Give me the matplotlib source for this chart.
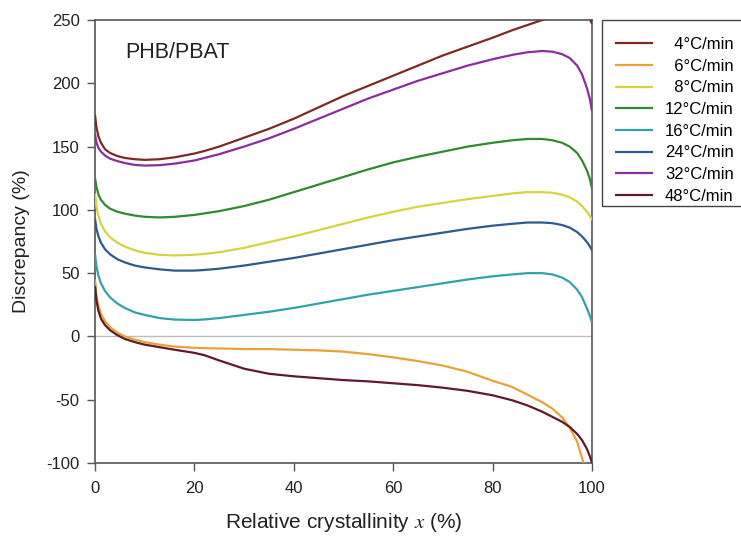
import numpy as np
import matplotlib
matplotlib.use("Agg")
import matplotlib.pyplot as plt
from matplotlib.patches import Rectangle

plt.rcParams["font.family"] = ["Liberation Sans", "DejaVu Sans"]
plt.rcParams["mathtext.fontset"] = "stix"
plt.rcParams["axes.unicode_minus"] = False

# Relative crystallinity (%) sample positions shared by all series
x = [0, 0.3, 0.7, 1.2, 2, 3, 4.5, 6, 8, 10, 13, 16, 20, 22, 25, 30, 35, 40, 45, 50,
     55, 60, 65, 70, 75, 80, 84, 87, 90, 92, 94, 95.5, 97, 98, 99, 99.6, 100]

rate_labels = ["4°C/min", "6°C/min", "8°C/min", "12°C/min",
               "16°C/min", "24°C/min", "32°C/min", "48°C/min"]

d_4 = [175, 165, 158, 153, 148, 145, 142.5, 141, 140, 139.5, 140, 141.5, 144.5, 146.5,
       150, 157, 164, 172, 181, 190, 198, 206, 214, 222, 229, 236, 242, 246, 250,
       252.5, 254.5, 255.5, 256, 255.5, 253, 250.5, 247]
d_6 = [45, 32, 24, 18, 12, 7.5, 3, 0, -2.5, -4.5, -6.5, -8, -9, -9.3, -9.5, -10, -10,
       -10.5, -11, -12, -14, -16.5, -19.5, -23, -28, -35, -40, -46, -52, -57, -64,
       -72, -83, -96, -110, -120, -128]
d_8 = [113, 102, 95, 89, 83, 78.5, 74, 71, 68, 66, 64.5, 64, 64.5, 65.2, 66.5, 70,
       74.5, 79, 84, 89, 94, 98.5, 102.5, 105.5, 108.5, 111, 113, 114, 114, 113.5,
       112, 110, 106.5, 103, 98.5, 95, 92]
d_12 = [125, 118, 112, 108, 104, 101, 98.5, 97, 95.5, 94.5, 94, 94.5, 96, 97.2, 99,
        103, 108, 114, 120, 126, 132, 137.5, 142, 146, 150, 153, 155, 156, 156, 155,
        153, 150, 145, 139, 131, 124, 117]
d_16 = [65, 55, 48, 42, 36, 31, 26, 22.5, 19, 17, 14.5, 13.3, 13, 13.4, 14.5, 17,
        19.5, 22.5, 26, 29.5, 33, 36, 39, 42, 45, 47.5, 49, 50, 50, 49, 46.5, 43, 37,
        31, 22, 16, 11]
d_24 = [93, 85, 79, 74, 69, 65, 61, 58.5, 56, 54.5, 53, 52, 52, 52.5, 53.5, 56, 59,
        62, 65.5, 69, 72.5, 76, 79, 82, 85, 87.5, 89, 90, 90, 89.5, 88, 86, 82.5, 79,
        74.5, 71, 68]
d_32 = [160, 153, 149, 146, 143, 140.5, 138.5, 137, 135.5, 135, 135.3, 136.5, 139,
        141, 144, 150, 156.5, 164, 172, 180, 188, 195, 202, 208, 214, 219, 222.5,
        224.5, 225.5, 225, 223, 220, 214, 207, 196, 187, 178]
d_48 = [40, 28, 20, 14, 9, 5, 1, -2, -4.5, -6.5, -8.5, -10.5, -13, -14.8, -19, -25.5,
        -29.5, -31.5, -33, -34.5, -35.5, -37, -38.5, -40.5, -43, -46.5, -50.5, -54.5,
        -59.5, -63.5, -67.5, -71.5, -77, -82, -89, -95, -100]

series = [d_4, d_6, d_8, d_12, d_16, d_24, d_32, d_48]
colors = ["#7E2A24", "#E9A23A", "#D5D43E", "#2F8A30",
          "#33A2A8", "#2D5B8B", "#8B2E9D", "#611A2A"]

W, H = 741, 540
fig = plt.figure(figsize=(W / 100, H / 100), dpi=100)
ax = fig.add_axes([95 / W, 77 / H, 497 / W, 443 / H])

ax.axhline(0, color="#BDBDBD", lw=1.0, zorder=1)

for vals, c, lab in zip(series, colors, rate_labels):
    # two spaces take the width of one digit, so the rate labels line up on the right
    pad = "  " if len(lab.split("°")[0]) == 1 else ""
    ax.plot(x, vals, color=c, lw=1.6, label=pad + lab, zorder=3,
            solid_capstyle="butt", solid_joinstyle="round")

ax.set_xlim(0, 100)
ax.set_ylim(-100, 250)
ax.set_xticks([0, 20, 40, 60, 80, 100])
ax.set_yticks([-100, -50, 0, 50, 100, 150, 200, 250])

for side in ["left", "bottom", "top", "right"]:
    ax.spines[side].set_color("#555555")
    ax.spines[side].set_linewidth(1.2)
ax.tick_params(axis="both", which="both", direction="out", length=6, width=1.0,
               color="#555555", labelsize=12, labelcolor="#222222",
               top=False, right=False)
ax.tick_params(axis="x", pad=7)
ax.tick_params(axis="y", pad=5)

ax.set_xlabel(r"Relative crystallinity $x$ (%)", fontsize=15, color="#222222",
              labelpad=11)
ax.set_ylabel("Discrepancy (%)", fontsize=14, color="#222222", labelpad=12)

ax.text(6, 224, "PHB/PBAT", fontsize=15.5, color="#222222", va="center", ha="left")

# legend entries without their own frame; the box is drawn separately
leg = fig.legend(loc="upper left", bbox_to_anchor=(615 / W, 1 - 37 / H),
                 fontsize=12, frameon=False, handlelength=2.3,
                 handletextpad=0.7, labelspacing=0.4, borderpad=0,
                 borderaxespad=0)
fig.add_artist(Rectangle((602 / W, 1 - 206 / H), 160 / W, 186 / H,
                         transform=fig.transFigure, fill=False,
                         edgecolor="#444444", linewidth=1.0))

fig.savefig("out.png", dpi=100)
